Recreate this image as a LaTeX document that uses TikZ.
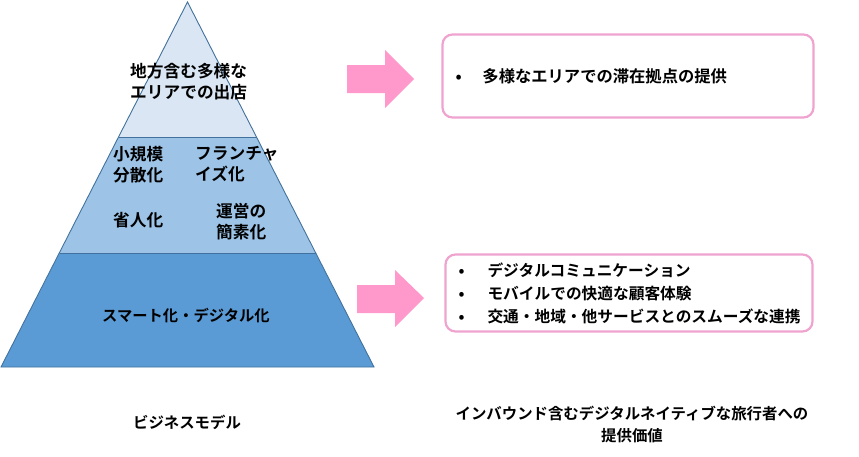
\documentclass[tikz,border=0pt]{standalone}
\usepackage{fontspec}
\usepackage{xcolor}
\usetikzlibrary{positioning}
\newfontfamily\jpfont{Noto Sans CJK JP Bold}

\definecolor{etageHaut}{HTML}{DAE6F3}
\definecolor{etageMilieu}{HTML}{9DC3E6}
\definecolor{etageBas}{HTML}{5B9BD5}
\definecolor{bordBleu}{HTML}{41719C}
\definecolor{rosePlein}{HTML}{FF99CC}
\definecolor{roseBord}{HTML}{EFA3CF}

\begin{document}
\begin{tikzpicture}[
				x=1pt, y=-1pt,
				% Styles pour la pyramide
				etage/.style={draw=bordBleu, line width=0.9pt, line join=miter},
				texte/.style={font=\jpfont\fontsize{16.7}{21.5}\selectfont, inner sep=0pt, align=left},
				% Styles pour la partie de droite
				fleche/.style={fill=rosePlein, draw=none},
				boite/.style={draw=roseBord, line width=2.2pt, rounded corners=10pt, fill=white,
					font=\jpfont\fontsize{16.3}{23}\selectfont, align=left, inner xsep=13pt},
				legende/.style={font=\jpfont\fontsize{15.4}{22}\selectfont, align=center, inner sep=0pt},
				]
				
				\useasboundingbox (0,0) rectangle (859,456);
				
				% Pyramide
				\fill[etageHaut] (187.5,2) -- (256.5,137) -- (118.5,137) -- cycle;
				\fill[etageMilieu] (118.5,137) -- (256.5,137) -- (315.5,253) -- (59.5,253) -- cycle;
				\fill[etageBas] (59.5,253) -- (315.5,253) -- (374,367) -- (1,367) -- cycle;
				\draw[etage] (187.5,2) -- (374,367) -- (1,367) -- cycle;
				\draw[etage] (118.5,137) -- (256.5,137);
				\draw[etage] (59.5,253) -- (315.5,253);
				
				
				\node[texte, anchor=north west] (ouverture) at (130,63) {地方含む多様な\\エリアでの出店};
				
				\node[texte, anchor=north west] (petite) at (113,146) {小規模\\分散化};
				\node[texte, anchor=north west] (franchise) at (195,146) {フランチャ\\イズ化};
				\node[texte, anchor=west] (economie) at (113,220) {省人化};
				\node[texte, anchor=north west] (gestion) at (216,203) {運営の\\簡素化};
				
				\node[texte, font=\jpfont\fontsize{15.3}{20}\selectfont] (numerique) at (186,316) {スマート化・デジタル化};
				
				\node[legende] (modele) at (187,422) {ビジネスモデル};
				
				
				% Fleches roses
				\fill[fleche] (347,65) -- (385,65) -- (385,50) -- (414,79) -- (385,108) -- (385,93) -- (347,93) -- cycle;
				\fill[fleche] (357,285) -- (395,285) -- (395,270) -- (424,298) -- (395,327) -- (395,313) -- (357,313) -- cycle;
				
				
				% Boites de valeur
				\node[boite, minimum width=371pt, minimum height=83pt, text width=345pt] (valeurHaut) at (628,76)
					{\makebox[27pt][l]{•}多様なエリアでの滞在拠点の提供};
				\node[boite, font=\jpfont\fontsize{15.7}{23}\selectfont, minimum width=367pt, minimum height=77pt, text width=341pt] (valeurBas) at (629,293)
					{\makebox[29pt][l]{•}デジタルコミュニケーション\\
					 \makebox[29pt][l]{•}モバイルでの快適な顧客体験\\
					 \makebox[29pt][l]{•}交通・地域・他サービスとのスムーズな連携};
				
				\node[legende] (voyageur) at (632,424) {インバウンド含むデジタルネイティブな旅行者への\\提供価値};
				
			\end{tikzpicture}
\end{document}
